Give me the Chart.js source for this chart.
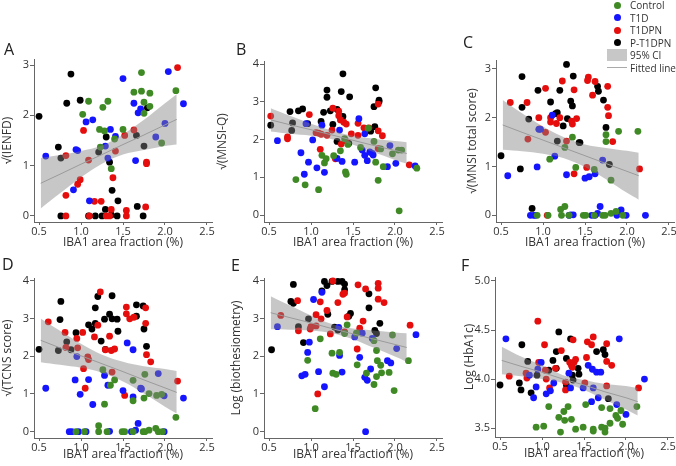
<!DOCTYPE html>
<html><head><meta charset="utf-8">
<script src="https://cdn.jsdelivr.net/npm/chart.js@4.4.1/dist/chart.umd.min.js"></script>
<style>
html,body{margin:0;padding:0;background:#fff;width:676px;height:466px;overflow:hidden;position:relative;font-family:"Open Sans",sans-serif;}
.pan{position:absolute;}
.letter{position:absolute;font-size:16px;line-height:16px;color:#222;}
.lg{position:absolute;left:630px;font-size:10px;line-height:12px;height:12px;color:#333;white-space:nowrap;}
.dot{position:absolute;width:7px;height:7px;border-radius:50%;left:614px;}
</style></head><body>
<script>
// ---------- data ----------
const groups = ['Control','T1D','T1DPN','P-T1DPN'];
const groupColors = ['#3f8a24','#1414ff','#e60d0d','#000000'];
const xTicks = [0.5,1.0,1.5,2.0,2.5];
const xTitle = 'IBA1 area fraction (%)';
const ciX = [0.52,0.75,1.0,1.25,1.5,1.75,2.0,2.14];

// Panel A  √(IENFD)
const A_ctrl = [[1.09,2.28],[1.02,2.02],[1.32,2.28],[1.26,2.16],[1.22,1.72],[1.28,1.69],[1.23,1.37],[1.40,1.53],[1.36,0.94],[1.50,1.72],[1.63,2.46],[1.72,2.85],[1.72,2.48],[1.75,2.26],[1.82,2.44],[1.82,2.18],[1.75,2.04],[1.96,1.45],[2.13,2.49]];
const A_t1d = [[0.58,1.19],[0.94,1.32],[0.96,1.30],[1.06,1.87],[1.14,1.91],[0.91,0.52],[1.10,0.30],[1.29,1.39],[1.32,1.15],[1.35,1.72],[1.41,1.58],[1.50,2.73],[1.63,2.24],[1.68,2.05],[1.71,2.13],[1.65,1.10],[1.89,1.57],[2.00,1.84],[2.04,2.87],[2.22,2.23]];
const A_t1dpn = [[0.82,0],[0.82,1.20],[0.82,0.41],[0.96,0.63],[0.99,0.72],[1.03,1.70],[1.09,1.11],[1.10,0],[1.16,0.29],[1.24,0.29],[1.30,0],[1.34,0],[1.36,0.13],[1.38,0.76],[1.41,1.29],[1.52,1.60],[1.54,0.11],[1.54,0],[1.63,1.71],[1.78,1.07],[1.78,1.04],[1.77,0.18],[2.15,2.95]];
const A_pt = [[0.50,1.98],[0.88,2.82],[0.83,2.24],[0.99,2.30],[0.73,1.37],[0.76,1.15],[0.76,0],[1.21,1.27],[1.30,1.57],[1.34,1.07],[1.37,0.51],[1.44,0.30],[1.29,0.13],[1.09,0],[1.17,0],[1.25,0],[1.36,0.02],[1.43,0],[1.66,1.60],[1.75,1.39],[1.79,2.15],[1.67,0.19],[1.74,0]];
const A_fit = [0.65,0.83,1.03,1.22,1.42,1.61,1.81,1.92];
const A_hi = [1.15,1.21,1.29,1.40,1.62,1.91,2.24,2.42];
const A_lo = [0.15,0.45,0.77,1.04,1.22,1.31,1.39,1.42];
const A_yTicks = [0,1,2,3];

// Panel B  √(MNSI-Q)
const B_ctrl = [[0.82,0.94],[0.93,0.80],[1.09,0.67],[1.13,1.58],[1.16,1.38],[1.18,1.49],[1.27,1.57],[1.35,1.70],[1.40,2.02],[1.41,1.14],[1.42,1.08],[1.44,1.87],[1.59,1.79],[1.68,2.30],[1.75,1.95],[1.77,1.40],[1.80,0.92],[1.83,1.75],[1.86,1.28],[1.97,1.62],[2.04,1.72],[2.08,1.72],[2.05,0.11],[2.26,1.24]];
const B_t1d = [[0.60,1.97],[0.88,1.65],[0.92,1.08],[0.97,1.40],[1.02,1.99],[0.94,2.42],[1.07,1.25],[1.13,2.38],[1.16,1.13],[1.34,2.25],[1.31,1.50],[1.37,1.42],[1.52,1.40],[1.57,2.55],[1.61,1.72],[1.64,1.58],[1.67,1.44],[1.64,2.15],[1.73,1.63],[1.70,1.67],[1.74,1.59],[1.94,1.84],[1.91,1.28],[2.01,1.37],[2.24,1.30]];
const B_t1dpn = [[0.52,2.62],[0.72,2.02],[0.72,2.07],[0.98,2.66],[1.06,2.18],[1.09,2.17],[1.12,2.14],[1.11,1.74],[1.19,2.11],[1.25,2.25],[1.26,2.83],[1.33,2.75],[1.33,2.63],[1.35,2.52],[1.39,2.46],[1.42,2.41],[1.41,1.97],[1.36,1.88],[1.29,1.49],[1.48,2.15],[1.56,2.11],[1.56,2.43],[1.63,2.31],[1.69,2.31],[1.80,2.23],[1.80,1.76],[1.80,2.94],[1.85,2.10],[2.17,1.33]];
const B_pt = [[0.52,2.38],[0.75,2.74],[0.85,2.76],[0.90,2.81],[0.78,2.44],[0.77,2.24],[0.96,2.42],[1.12,2.48],[1.15,2.72],[1.19,3.31],[1.19,3.12],[1.23,2.76],[1.26,2.40],[1.31,2.80],[1.31,1.95],[1.36,3.27],[1.38,3.74],[1.38,2.61],[1.45,1.90],[1.46,3.13],[1.77,3.37],[1.71,2.22],[1.76,2.34],[1.75,2.87],[1.81,3.04],[1.81,3.00]];
const B_fit = [2.52,2.39,2.26,2.12,1.98,1.84,1.71,1.63];
const B_hi = [2.83,2.63,2.42,2.24,2.10,2.02,1.96,1.93];
const B_lo = [2.21,2.15,2.10,2.01,1.86,1.66,1.46,1.36];
const B_yTicks = [0,1,2,3,4];

// Panel C  √(MNSI total score)
const C_ctrl = [[1.08,1.15],[1.26,1.39],[1.35,1.60],[1.39,0.98],[1.61,0.94],[1.75,1.65],[1.75,1.51],[1.90,1.72],[2.13,1.72],[1.81,0.72],[1.21,0.12],[1.26,0.18],[0.93,0],[1.06,0],[1.22,0],[1.31,0],[1.48,0],[1.51,0],[1.61,0],[1.71,0],[1.74,0],[1.81,0.04],[1.87,0.08],[1.95,0]];
const C_t1d = [[0.58,0.81],[0.93,0.99],[0.95,1.76],[0.97,1.76],[1.11,2.05],[1.14,1.21],[1.28,0.83],[1.50,0.76],[1.55,0.79],[1.62,0.85],[1.71,1.13],[1.68,0.18],[1.93,0.11],[0.85,0],[0.89,0],[0.91,0],[1.31,0],[1.33,0.01],[1.36,0.01],[1.58,0],[1.62,0],[1.65,0.04],[1.88,0],[1.99,0],[2.22,0]];
const C_t1dpn = [[0.61,2.31],[0.81,2.31],[0.82,1.56],[0.95,2.00],[0.96,1.77],[1.03,1.70],[1.03,2.60],[1.05,0],[1.09,2.00],[1.09,1.91],[1.16,1.88],[1.20,2.00],[1.23,2.75],[1.28,1.52],[1.34,1.93],[1.35,1.87],[1.37,2.57],[1.40,1.98],[1.37,0.85],[1.54,2.83],[1.53,2.76],[1.52,0.98],[1.59,2.46],[1.62,2.74],[1.77,2.64],[1.77,2.21],[1.78,2.04],[1.83,1.51],[2.15,0.95]];
const C_pt = [[0.50,1.22],[0.75,2.84],[0.75,2.21],[0.83,1.97],[0.73,0.95],[0.87,0.14],[0.94,2.56],[1.09,2.32],[1.15,2.08],[1.17,2.10],[1.20,2.56],[1.24,1.83],[1.28,3.09],[1.29,1.98],[1.33,2.34],[1.35,2.24],[1.36,2.85],[1.17,1.52],[1.43,1.49],[1.44,1.49],[1.65,2.64],[1.66,2.54],[1.72,2.36],[1.75,1.80],[1.79,1.04]];
const C_fit = [1.85,1.70,1.54,1.38,1.22,1.06,0.90,0.81];
const C_hi = [2.36,2.09,1.82,1.60,1.45,1.38,1.32,1.28];
const C_lo = [1.34,1.31,1.26,1.17,0.99,0.74,0.46,0.32];
const C_yTicks = [0,1,2,3];

// Panel D  √(TCNS score)
const D_ctrl = [[1.26,1.64],[1.28,0.73],[1.35,1.23],[1.40,1.37],[1.62,1.36],[1.62,0.82],[1.75,0.89],[1.76,1.52],[1.81,1.01],[1.90,0.96],[1.96,0.99],[2.13,0.38],[1.21,0.16],[0.94,0],[1.04,0],[1.21,0],[1.31,0],[1.49,0],[1.52,0],[1.62,0],[1.74,0],[1.76,0],[1.81,0.04],[1.89,0.09],[1.92,0],[1.97,0]];
const D_t1d = [[0.58,1.15],[0.95,1.99],[0.93,1.37],[0.99,0.99],[1.09,1.38],[1.14,0.72],[1.28,1.49],[1.32,1.23],[1.55,2.35],[1.50,1.09],[1.62,2.17],[1.62,0.92],[1.71,1.15],[1.72,1.13],[1.92,1.54],[1.99,0.95],[2.22,0.89],[1.68,0.22],[1.65,0.04],[0.86,0],[0.89,0],[0.97,0],[1.06,0],[1.34,0.01],[1.60,0],[1.99,0]];
const D_t1dpn = [[0.61,2.91],[0.81,2.63],[0.82,2.23],[0.95,2.47],[0.96,2.22],[1.02,2.63],[1.03,1.67],[1.05,1.15],[1.08,1.98],[1.09,1.91],[1.16,2.51],[1.20,2.82],[1.23,3.70],[1.29,2.17],[1.34,2.53],[1.36,2.15],[1.37,1.58],[1.40,2.19],[1.52,0.96],[1.54,3.12],[1.54,3.30],[1.58,2.99],[1.63,3.03],[1.77,3.28],[1.77,2.87],[1.78,2.04],[1.83,1.85],[2.15,1.34]];
const D_pt = [[0.50,2.18],[0.76,3.45],[0.75,2.97],[0.73,2.15],[0.83,2.38],[0.88,2.17],[0.94,2.62],[1.09,2.83],[1.13,2.72],[1.17,3.28],[1.17,2.87],[1.20,3.58],[1.24,2.40],[1.28,2.98],[1.29,2.18],[1.34,3.11],[1.37,3.60],[1.37,2.99],[1.43,2.98],[1.44,2.66],[1.66,3.36],[1.66,3.06],[1.74,3.33],[1.75,2.72],[1.78,2.26]];
const D_fit = [2.42,2.22,2.01,1.80,1.59,1.37,1.16,1.04];
const D_hi = [3.00,2.67,2.33,2.04,1.85,1.73,1.66,1.61];
const D_lo = [1.84,1.77,1.69,1.56,1.33,1.01,0.66,0.48];
const D_yTicks = [0,1,2,3,4];

// Panel E  Log (biothesiometry)
const E_ctrl = [[0.96,1.89],[1.05,0.61],[1.11,2.46],[1.25,2.08],[1.26,1.55],[1.30,1.52],[1.34,2.10],[1.40,2.60],[1.43,2.83],[1.54,2.61],[1.55,1.77],[1.66,1.55],[1.75,1.25],[1.75,2.41],[1.78,2.15],[1.79,1.88],[1.78,1.46],[1.83,1.76],[1.84,1.56],[1.93,1.57],[1.97,2.56],[1.99,1.09],[2.16,1.88]];
const E_t1d = [[0.60,2.78],[0.89,1.48],[0.93,1.52],[0.96,2.10],[0.98,2.37],[1.03,3.50],[1.09,1.59],[1.13,3.69],[1.16,1.19],[1.33,2.76],[1.34,2.02],[1.37,1.58],[1.52,2.51],[1.58,1.97],[1.61,2.61],[1.64,1.44],[1.67,1.36],[1.71,1.66],[1.73,2.47],[1.91,1.88],[1.95,1.82],[2.02,2.20],[2.25,2.57],[1.65,0.0]];
const E_t1dpn = [[0.64,3.08],[0.84,3.47],[0.85,2.67],[0.99,2.72],[1.00,2.78],[1.06,3.10],[1.06,2.80],[1.08,1.00],[1.11,3.44],[1.12,2.99],[1.19,3.21],[1.23,2.59],[1.26,3.99],[1.32,3.42],[1.38,3.64],[1.40,3.67],[1.40,2.64],[1.43,3.04],[1.55,2.19],[1.56,3.89],[1.58,2.74],[1.62,2.93],[1.65,3.78],[1.80,3.93],[1.80,3.80],[1.80,3.51],[1.87,3.42],[2.18,2.82]];
const E_pt = [[0.53,2.17],[0.76,3.45],[0.79,3.90],[0.79,3.40],[0.85,2.78],[0.91,2.36],[0.97,2.99],[1.13,3.73],[1.16,3.98],[1.19,3.87],[1.20,3.11],[1.25,3.98],[1.28,2.77],[1.32,3.98],[1.37,3.98],[1.40,3.91],[1.40,3.76],[1.32,2.69],[1.45,3.06],[1.47,3.13],[1.69,3.65],[1.69,3.28],[1.76,2.68],[1.78,2.60],[1.82,2.87]];
const E_fit = [3.15,3.02,2.88,2.73,2.59,2.45,2.31,2.23];
const E_hi = [3.59,3.34,3.08,2.85,2.73,2.68,2.63,2.61];
const E_lo = [2.71,2.70,2.68,2.61,2.45,2.22,1.99,1.85];
const E_yTicks = [0,1,2,3,4];

// Panel F  Log (HbA1c)
const F_ctrl = [[0.93,3.51],[1.02,3.52],[1.08,3.72],[1.20,3.61],[1.22,3.46],[1.26,3.67],[1.27,3.58],[1.31,3.72],[1.35,3.59],[1.40,3.49],[1.49,3.51],[1.52,3.74],[1.61,3.49],[1.61,3.47],[1.71,3.71],[1.71,3.51],[1.75,3.50],[1.75,3.46],[1.81,3.70],[1.81,3.55],[1.88,3.63],[1.90,3.60],[1.94,3.68],[1.96,3.54],[2.13,3.72]];
const F_t1d = [[0.57,4.41],[0.85,4.04],[0.93,3.92],[0.90,3.81],[0.95,4.10],[0.99,4.17],[1.05,3.85],[1.10,3.88],[1.14,3.96],[1.32,4.06],[1.34,3.91],[1.49,3.91],[1.55,4.14],[1.61,3.91],[1.60,4.10],[1.65,4.07],[1.70,4.07],[1.59,3.77],[1.67,3.81],[1.89,3.74],[1.92,4.41],[2.00,3.64],[2.22,4.00]];
const F_t1dpn = [[0.61,4.03],[0.81,4.06],[0.82,4.01],[0.95,4.59],[0.96,4.17],[1.03,4.35],[1.04,4.09],[1.05,4.00],[1.09,3.91],[1.16,4.11],[1.23,4.29],[1.28,3.89],[1.28,3.97],[1.33,4.17],[1.35,4.14],[1.36,4.12],[1.37,4.40],[1.38,4.17],[1.40,4.20],[1.51,3.96],[1.53,4.22],[1.54,4.38],[1.59,4.35],[1.61,4.43],[1.77,4.36],[1.77,4.18],[1.77,3.93],[1.83,4.14],[2.15,3.91]];
const F_pt = [[0.50,3.94],[0.73,3.96],[0.76,4.35],[0.75,3.89],[0.83,4.18],[0.87,3.86],[0.94,4.04],[1.08,4.09],[1.13,4.19],[1.17,4.28],[1.17,4.11],[1.20,4.48],[1.29,3.94],[1.29,4.21],[1.34,4.41],[1.36,4.04],[1.37,3.99],[1.43,4.11],[1.44,4.05],[1.65,4.28],[1.73,4.30],[1.75,4.25],[1.79,3.80]];
const F_fit = [4.19,4.13,4.07,4.00,3.94,3.87,3.81,3.77];
const F_hi = [4.33,4.23,4.14,4.04,3.99,3.95,3.93,3.91];
const F_lo = [4.05,4.03,4.00,3.96,3.89,3.79,3.69,3.63];
const F_yTicks = [3.5,4.0,4.5,5.0];

// ---------- layout (positions only) ----------
const FONT = "'Open Sans', 'Noto Sans', sans-serif";
Chart.defaults.font.family = FONT;
const PLOT_W = 178;
const panels = [
  {id:'A', yTitle:'√(IENFD)', groupsData:[A_ctrl,A_t1d,A_t1dpn,A_pt], fit:A_fit, hi:A_hi, lo:A_lo, yTicks:A_yTicks, ymin:-0.12, ymax:3.12, dec:0,
   g:{left:0, top:47, yw:34, xh:28, plotH:163}, letter:[4,41]},
  {id:'B', yTitle:'√(MNSI-Q)', groupsData:[B_ctrl,B_t1d,B_t1dpn,B_pt], fit:B_fit, hi:B_hi, lo:B_lo, yTicks:B_yTicks, ymin:-0.185, ymax:4.08, dec:0,
   g:{left:215, top:49, yw:49, xh:28, plotH:161}, letter:[236,41]},
  {id:'C', yTitle:'√(MNSI total score)', groupsData:[C_ctrl,C_t1d,C_t1dpn,C_pt], fit:C_fit, hi:C_hi, lo:C_lo, yTicks:C_yTicks, ymin:-0.137, ymax:3.18, dec:0,
   g:{left:465, top:48, yw:31, xh:28, plotH:162}, letter:[463,34]},
  {id:'D', yTitle:'√(TCNS score)', groupsData:[D_ctrl,D_t1d,D_t1dpn,D_pt], fit:D_fit, hi:D_hi, lo:D_lo, yTicks:D_yTicks, ymin:-0.167, ymax:4.07, dec:0,
   g:{left:0, top:266, yw:34, xh:24, plotH:160}, letter:[2,256]},
  {id:'E', yTitle:'Log (biothesiometry)', groupsData:[E_ctrl,E_t1d,E_t1dpn,E_pt], fit:E_fit, hi:E_hi, lo:E_lo, yTicks:E_yTicks, ymin:-0.167, ymax:4.07, dec:0,
   g:{left:229, top:266, yw:35, xh:24, plotH:160}, letter:[231,257]},
  {id:'F', yTitle:'Log (HbA1c)', groupsData:[F_ctrl,F_t1d,F_t1dpn,F_pt], fit:F_fit, hi:F_hi, lo:F_lo, yTicks:F_yTicks, ymin:3.41, ymax:5.04, dec:1,
   g:{left:462, top:265, yw:33, xh:24, plotH:160}, letter:[461,257]}
];

const xy = (xs, ys) => xs.map((x,i)=>({x:x, y:ys[i]}));

panels.forEach(p => {
  const W = p.g.yw + PLOT_W + 12, H = 12 + p.g.plotH + p.g.xh;
  const div = document.createElement('div');
  div.className = 'pan';
  div.style.left = p.g.left + 'px'; div.style.top = p.g.top + 'px';
  div.style.width = W + 'px'; div.style.height = H + 'px';
  const cv = document.createElement('canvas');
  cv.width = W; cv.height = H; cv.style.width = W + 'px'; cv.style.height = H + 'px';
  div.appendChild(cv);
  document.body.appendChild(div);

  const lt = document.createElement('div');
  lt.className = 'letter'; lt.textContent = p.id;
  lt.style.left = p.letter[0] + 'px'; lt.style.top = p.letter[1] + 'px';
  document.body.appendChild(lt);

  const datasets = [
    {type:'line', label:'Fitted line', data:xy(ciX, p.fit), borderColor:'#9a9a9a', borderWidth:1, pointRadius:0, fill:false, tension:0},
    {type:'line', label:'CI lower', data:xy(ciX, p.lo), borderColor:'rgba(0,0,0,0)', borderWidth:1, pointRadius:0, fill:false, tension:0.35},
    {type:'line', label:'95% CI', data:xy(ciX, p.hi), borderColor:'rgba(0,0,0,0)', borderWidth:1, backgroundColor:'rgba(130,130,130,0.45)', pointRadius:0, fill:'-1', tension:0.35}
  ];
  groups.forEach((gname, i) => {
    datasets.push({type:'scatter', label:gname, data:p.groupsData[i].map(d=>({x:d[0], y:d[1]})),
      backgroundColor:groupColors[i], borderWidth:0, pointRadius:3.4, pointHoverRadius:3.4, clip:6});
  });

  new Chart(cv, {
    type:'scatter',
    data:{datasets:datasets},
    options:{
      responsive:false, animation:false, devicePixelRatio:1,
      layout:{padding:{left:0, top:12, right:12, bottom:0}},
      plugins:{legend:{display:false}, tooltip:{enabled:false}},
      scales:{
        x:{type:'linear', min:0.44, max:2.56,
          afterBuildTicks:s=>{s.ticks = xTicks.map(v=>({value:v}));},
          afterFit:s=>{s.height = p.g.xh;},
          ticks:{callback:v=>Number(v).toFixed(1), font:{size:11}, color:'#333', padding:0, maxRotation:0, autoSkip:false},
          grid:{display:true, drawOnChartArea:false, drawTicks:true, tickLength:3, color:'#666'},
          border:{display:true, color:'#666', width:1},
          title:{display:true, text:xTitle, font:{size:12}, color:'#333', padding:0}
        },
        y:{type:'linear', min:p.ymin, max:p.ymax,
          afterBuildTicks:s=>{s.ticks = p.yTicks.map(v=>({value:v}));},
          afterFit:s=>{s.width = p.g.yw;},
          ticks:{callback:v=>Number(v).toFixed(p.dec), font:{size:11}, color:'#333', padding:1, autoSkip:false},
          grid:{display:true, drawOnChartArea:false, drawTicks:true, tickLength:4, color:'#666'},
          border:{display:true, color:'#666', width:1},
          title:{display:true, text:p.yTitle, font:{size:12}, color:'#333', padding:0}
        }
      }
    }
  });
});

// ---------- legend ----------
const legendRows = [5, 17.5, 30, 42.5];
groups.forEach((gname, i) => {
  const d = document.createElement('div'); d.className = 'dot';
  d.style.background = groupColors[i]; d.style.top = (legendRows[i] - 3.5) + 'px';
  document.body.appendChild(d);
  const t = document.createElement('div'); t.className = 'lg'; t.textContent = gname;
  t.style.top = (legendRows[i] - 6) + 'px';
  document.body.appendChild(t);
});
const ciBox = document.createElement('div');
ciBox.style.cssText = 'position:absolute;left:607px;top:49px;width:20px;height:12px;background:rgba(130,130,130,0.45);';
document.body.appendChild(ciBox);
const ciT = document.createElement('div'); ciT.className='lg'; ciT.textContent='95% CI'; ciT.style.top='49px';
document.body.appendChild(ciT);
const fl = document.createElement('div');
fl.style.cssText = 'position:absolute;left:607px;top:67px;width:20px;height:1px;background:#aaa;';
document.body.appendChild(fl);
const flT = document.createElement('div'); flT.className='lg'; flT.textContent='Fitted line'; flT.style.top='62px';
document.body.appendChild(flT);
</script>
</body></html>
